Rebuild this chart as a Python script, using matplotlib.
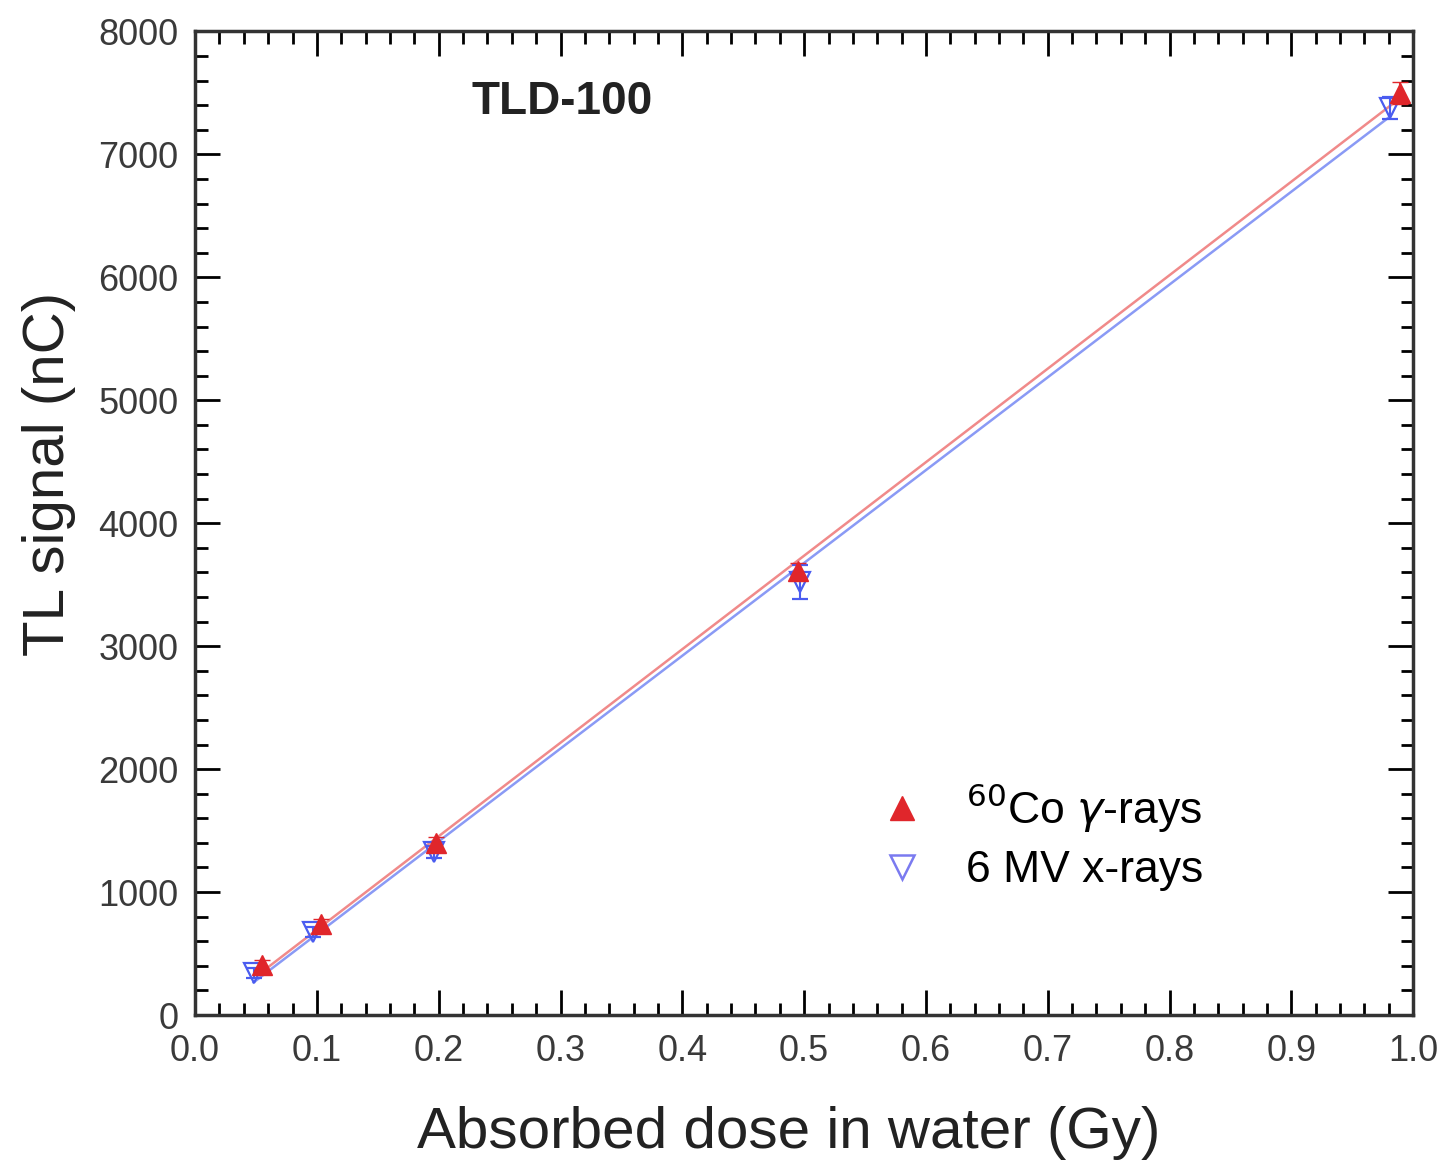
import numpy as np
import matplotlib.pyplot as plt
from matplotlib.ticker import MultipleLocator
from matplotlib.lines import Line2D

plt.rcParams['font.family'] = ['Liberation Sans', 'DejaVu Sans']

# 60Co gamma-rays
dose_co = [0.055, 0.103, 0.198, 0.495, 0.989]
tl_co = [410, 740, 1395, 3615, 7500]
err_co = [40, 40, 50, 60, 90]

# 6 MV x-rays
dose_x = [0.048, 0.097, 0.196, 0.497, 0.981]
tl_x = [345, 675, 1325, 3520, 7380]
err_x = [40, 40, 50, 140, 90]

red = '#e0262b'
blue = '#4a5cf0'

fig = plt.figure(figsize=(14.45, 11.64), dpi=100)
ax = fig.add_axes([0.135, 0.128, 0.843, 0.845])

# linear fits
for d, t, c in [(dose_co, tl_co, '#f08a8a'), (dose_x, tl_x, '#8a9af5')]:
    k, b = np.polyfit(d, t, 1)
    xx = np.array([min(d), max(d)])
    ax.plot(xx, k * xx + b, color=c, lw=1.8, zorder=2)

ax.errorbar(dose_co, tl_co, yerr=err_co, fmt='^', color=red, ms=14,
            capsize=6, elinewidth=1.5, zorder=4)
ax.errorbar(dose_x, tl_x, yerr=err_x, fmt='v', mfc='none', mec=blue, ecolor=blue,
            ms=15, mew=1.6, capsize=6, elinewidth=1.5, zorder=3)

ax.set_xlim(0, 1.0)
ax.set_ylim(0, 8000)
ax.xaxis.set_major_locator(MultipleLocator(0.1))
ax.xaxis.set_minor_locator(MultipleLocator(0.02))
ax.yaxis.set_major_locator(MultipleLocator(1000))
ax.yaxis.set_minor_locator(MultipleLocator(200))
ax.xaxis.set_major_formatter(plt.FormatStrFormatter('%.1f'))
ax.tick_params(which='both', direction='in', top=True, right=True,
               labelsize=26, labelcolor='#3a3a3a', width=2)
ax.tick_params(which='major', length=18)
ax.tick_params(which='minor', length=9)
ax.tick_params(axis='x', pad=14)
ax.tick_params(axis='y', pad=12)
for s in ax.spines.values():
    s.set_linewidth(2.5)
    s.set_color('#333333')

ax.set_xlabel('Absorbed dose in water (Gy)', fontsize=42, color='#222222')
ax.set_ylabel('TL signal (nC)', fontsize=42, color='#222222')
ax.yaxis.set_label_coords(-0.098, 0.55)
ax.xaxis.set_label_coords(0.487, -0.093)

ax.text(0.227, 0.928, 'TLD-100', transform=ax.transAxes, fontsize=33,
        fontweight='bold', color='#222222', va='center')

h = [Line2D([], [], ls='none', marker='^', color=red, ms=17),
     Line2D([], [], ls='none', marker='v', mfc='none', mec='#7a7af0', mew=1.8, ms=17)]
l = [r'$^{60}$Co $\gamma$-rays', '6 MV x-rays']
ax.legend(h, l, loc='lower left', bbox_to_anchor=(0.52, 0.085), frameon=False,
          fontsize=32, handletextpad=0.7, labelspacing=0.35, handlelength=1.5)

fig.savefig('out.png', dpi=100)
